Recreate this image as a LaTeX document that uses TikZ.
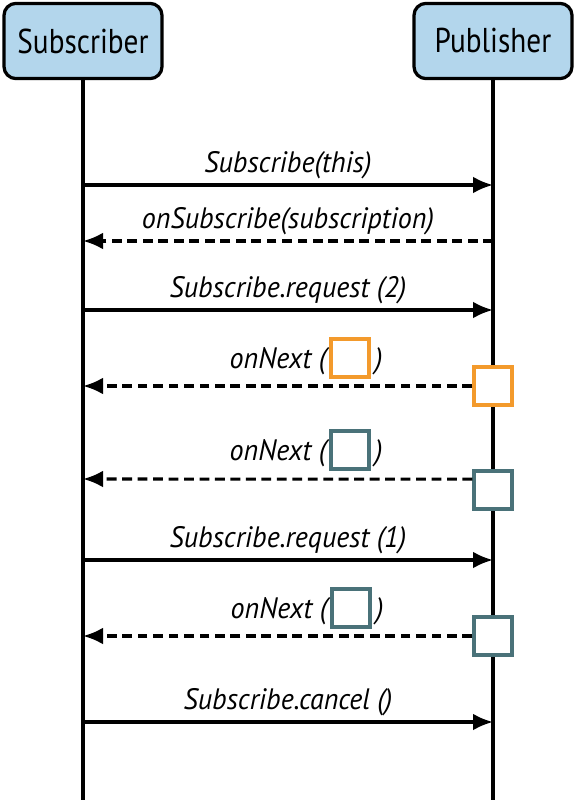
\documentclass[tikz,border=0pt]{standalone}
\usepackage{fontspec}
\setmainfont{PT Sans}[FakeStretch=0.85]
\newfontfamily\msgfont{PT Sans}[FakeStretch=0.95]
\usetikzlibrary{arrows.meta}

\definecolor{headblue}{HTML}{B3D6EC}
\definecolor{itemorange}{HTML}{F39A2C}
\definecolor{itemteal}{HTML}{4A7279}

\begin{document}
\begin{tikzpicture}[x=0.025cm,y=-0.025cm]
\tikzstyle{actor}=[draw,line width=2.3pt,rounded corners=0.3cm,fill=headblue,minimum width=3.95cm,minimum height=1.88cm,font=\fontsize{24.5}{28}\selectfont]
\tikzstyle{lifeline}=[line width=2.2pt]
\tikzstyle{call}=[line width=2.2pt,-{Latex[length=0.5cm,width=0.42cm]}]
\tikzstyle{reply}=[call,dash pattern=on 7pt off 4pt]
\tikzstyle{msgtext}=[font=\msgfont\fontsize{21}{24}\selectfont\itshape]
\tikzstyle{msg}=[above=0pt,msgtext]
\tikzstyle{item}=[draw,line width=2.4pt,fill=white,minimum size=0.95cm,inner sep=0pt]
\tikzstyle{mini}=[draw,line width=2.4pt,minimum size=0.95cm,inner sep=0pt]

\useasboundingbox (0,0) rectangle (577,800);

\node (sub) [actor] at (83,41) {Subscriber};
\node (pub) [actor] at (493,41) {Publisher};
\coordinate (subend) at (83,800);
\coordinate (pubend) at (493,800);
\draw [lifeline] (sub.south) -- (subend);
\draw [lifeline] (pub.south) -- (pubend);

% subscribe / onSubscribe
\coordinate (s1) at (83,185);  \coordinate (p1) at (493,185);
\draw [call] (s1) -- node[msg] {Subscribe(this)} (p1);
\coordinate (s2) at (83,241);  \coordinate (p2) at (493,241);
\draw [reply] (p2) -- node[msg] {onSubscribe(subscription)} (s2);

% request (2)
\coordinate (s3) at (83,310);  \coordinate (p3) at (493,310);
\draw [call] (s3) -- node[msg] {Subscribe.request (2)} (p3);

% first item
\node (q1) [item,draw=itemorange] at (493,386) {};
\coordinate (s4) at (83,386);
\draw [reply] (q1.west) -- (s4);
\node (m1) [mini,draw=itemorange] at (350,358) {};
\node (on1) [anchor=east,msgtext,inner xsep=2pt,yshift=-0.08cm] at (m1.west) {onNext (};
\node (cl1) [anchor=west,msgtext,inner xsep=3pt,yshift=-0.08cm] at (m1.east) {)};

% second item
\node (q2) [item,draw=itemteal] at (493,490) {};
\coordinate (s5) at (83,479);
\draw [reply] ([yshift=0.27cm]q2.west) -- (s5);
\node (m2) [mini,draw=itemteal] at (350,450) {};
\node (on2) [anchor=east,msgtext,inner xsep=2pt,yshift=-0.08cm] at (m2.west) {onNext (};
\node (cl2) [anchor=west,msgtext,inner xsep=3pt,yshift=-0.08cm] at (m2.east) {)};

% request (1)
\coordinate (s6) at (83,560);  \coordinate (p6) at (493,560);
\draw [call] (s6) -- node[msg] {Subscribe.request (1)} (p6);

% third item
\node (q3) [item,draw=itemteal] at (493,636) {};
\coordinate (s7) at (83,636);
\draw [reply] (q3.west) -- (s7);
\node (m3) [mini,draw=itemteal] at (351,608) {};
\node (on3) [anchor=east,msgtext,inner xsep=2pt,yshift=-0.08cm] at (m3.west) {onNext (};
\node (cl3) [anchor=west,msgtext,inner xsep=3pt,yshift=-0.08cm] at (m3.east) {)};

% cancel
\coordinate (s8) at (83,722);  \coordinate (p8) at (493,722);
\draw [call] (s8) -- node[msg] {Subscribe.cancel ()} (p8);

\end{tikzpicture}
\end{document}
